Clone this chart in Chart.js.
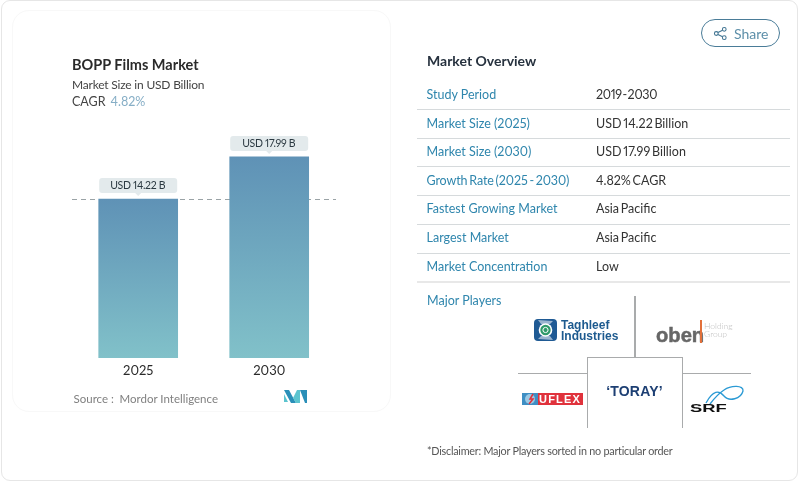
<!DOCTYPE html>
<html><head><meta charset="utf-8">
<script src="https://cdn.jsdelivr.net/npm/chart.js@4"></script>
<style>
html,body{margin:0;padding:0;background:#fff;}
body{width:800px;height:482px;position:relative;overflow:hidden;font-family:Lato,"Open Sans",sans-serif;color:#333;font-variant-numeric:proportional-nums;}
.a{position:absolute;white-space:nowrap;line-height:1;}
#outer{position:absolute;left:1px;top:0;width:797px;height:481px;border:1.5px solid #e6e6e6;border-radius:9px;box-sizing:border-box;}
#inner{position:absolute;left:12px;top:10px;width:379px;height:402px;border:1px solid #f8f8f8;border-radius:17px;box-sizing:border-box;}
canvas{position:absolute;left:0;top:0;}
.sep{position:absolute;left:417px;width:373px;height:1px;background:#d6dadc;}
.line{position:absolute;background:#a9abac;}
</style></head><body>
<div id="outer"></div><div id="inner"></div>
<canvas id="c" width="800" height="482"></canvas>
<div id="page"></div>
<svg class="a" style="left:713px;top:26px" width="15" height="15" viewBox="0 0 16 16" fill="none" stroke="#3f7391" stroke-width="1.1"><circle cx="3.5" cy="8" r="2"/><circle cx="12" cy="3.5" r="2"/><circle cx="12" cy="12.5" r="2"/><path d="M5.3 7 10.2 4.5M5.3 9 10.2 11.5"/></svg>
<div style="position:absolute;left:701px;top:19px;width:79px;height:28px;border:1.2px solid #4a7c98;border-radius:14px;box-sizing:border-box"></div>
<div class="line" style="left:634px;top:296px;width:1.5px;height:62px"></div>
<div class="line" style="left:518px;top:372.5px;width:69px;height:1.5px"></div>
<div class="line" style="left:682px;top:372.5px;width:69px;height:1.5px"></div>
<div style="position:absolute;left:587px;top:357px;width:96px;height:71px;border:1.5px solid #a9abac;border-bottom:none;box-sizing:border-box"></div>
<svg class="a" style="left:533px;top:318px" width="25" height="24" viewBox="0 0 25 24"><rect x="1" y="1" width="23" height="22" rx="4" fill="#1f5a94"/><path d="M5 2 20 3 17 6H8zM20 22 5 21 8 18H17z" fill="#fff" opacity=".55"/><circle cx="12.5" cy="12" r="6.8" fill="#fff"/><circle cx="12.5" cy="12" r="5.2" fill="#2f9a6a"/><circle cx="12.5" cy="12" r="2.6" fill="none" stroke="#fff" stroke-width="1"/></svg>
<div class="a" style="left:561px;top:320px;font:700 12px/11px 'Liberation Sans',sans-serif;color:#1d5a8f">Taghleef<br>Industries</div>
<div class="a" style="left:655.5px;top:324px;font:700 21px/1 'Liberation Sans',sans-serif;color:#666;-webkit-text-stroke:.5px #666;transform:scaleX(.96);transform-origin:left">oben</div>
<div style="position:absolute;left:700px;top:320px;width:2px;height:23px;background:#e2703a"></div>
<div class="a" style="left:704px;top:322px;font:300 8.5px/8px Lato,sans-serif;color:#bdbdbd">Holding<br>Group</div>
<div style="position:absolute;left:522px;top:393px;width:61px;height:12px;background:#e0323c"></div>
<svg class="a" style="left:522px;top:393px" width="16" height="12"><rect width="16" height="12" fill="#3f8fc4"/><circle cx="8" cy="6" r="5" fill="#9cc9e4"/><path d="M11 1 8 6h3l-4 5" stroke="#e0323c" stroke-width="1.5" fill="none"/></svg>
<div class="a" style="left:539px;top:394px;font:700 11px/1 'Liberation Sans',sans-serif;color:#fff;letter-spacing:1.2px">UFLEX</div>
<div class="a" style="left:634.5px;top:384px;transform:translateX(-50%);font:700 14px/1 'Liberation Sans',sans-serif;color:#1d3f73;letter-spacing:.2px">‘TORAY’</div>
<svg class="a" style="left:704px;top:384px" width="42" height="22" viewBox="0 0 42 22" fill="none"><path d="M2 19C9 6 15 6 20 12 25 18 37 15 39 7 40 1 27 1 20 6 14 10 9 16 6 20" stroke="#2b9ad4" stroke-width="1.3"/></svg>
<div class="a" style="left:690px;top:403px;font:900 10.5px/1 'Liberation Sans',sans-serif;color:#111;transform:scaleX(1.75);transform-origin:left">SRF</div>
<script>
const categories=["2025","2030"];
const marketSize=[14.22,17.99];
const barLabels=["USD 14.22 B","USD 17.99 B"];
const overviewLabels=["Study Period","Market Size (2025)","Market Size (2030)","Growth Rate (2025 - 2030)","Fastest Growing Market","Largest Market","Market Concentration"];
const overviewValues=["2019 - 2030","USD 14.22 Billion","USD 17.99 Billion","4.82% CAGR","Asia Pacific","Asia Pacific","Low"];
const rowY=[94.5,123.5,152,180.5,209,238,267];
const sepY=[109,138,166,195,224,253];

const page=document.getElementById('page');
function txt(s,x,y,css){const d=document.createElement('div');d.className='a';d.textContent=s;d.style.cssText=`left:${x}px;top:${y}px;transform:translateY(-50%);${css}`;page.appendChild(d);return d;}
txt("BOPP Films Market",72,64.5,"font-size:14.5px;font-weight:700;color:#2a2a2a");
txt("Market Size in USD Billion",72,85,"font-size:12px;letter-spacing:-.2px;color:#444");
txt("CAGR",72,102,"font-size:12.5px;color:#444");
txt("4.82%",110.5,102,"font-size:12.5px;color:#86aec6");
txt("Source :",73.5,398.5,"font-size:11.5px;color:#808080");
txt("Mordor Intelligence",119.5,398.5,"font-size:11.5px;color:#808080");
txt("Share",734,33.5,"font-size:14px;color:#5d8fa9");
txt("Market Overview",427,60.5,"font-size:14px;font-weight:700;color:#27323f");
overviewLabels.forEach((s,i)=>{
  const tight=s.includes(" - ");
  txt(s,426.5,rowY[i],"font-size:12.5px;color:#2f86ad;"+(tight?"word-spacing:-1.3px;letter-spacing:-.1px":""));
  const v=overviewValues[i];
  txt(v,596,rowY[i],"font-size:12.5px;color:#333;"+(v.includes(" - ")?"word-spacing:-2.2px;letter-spacing:-.3px":"word-spacing:-1.5px"));
});
sepY.forEach(y=>{const d=document.createElement('div');d.className='sep';d.style.top=y+'px';page.appendChild(d);});
const th=document.createElement('div');th.className='sep';th.style.cssText='top:281px;height:2px;background:#e8e8e8';page.appendChild(th);
txt("Major Players",427,300.5,"font-size:12.5px;color:#2f86ad");
txt("*Disclaimer: Major Players sorted in no particular order",427,450.5,"font-size:10.8px;letter-spacing:-.24px;color:#555");

const logo=document.createElementNS('http://www.w3.org/2000/svg','svg');
logo.setAttribute('class','a');logo.setAttribute('width','24');logo.setAttribute('height','13');logo.setAttribute('viewBox','0 0 24 13');
logo.style.cssText='left:284px;top:390px';
logo.innerHTML='<path d="M0 0H5L12 13H7z" fill="#2a8fb8"/><path d="M0 4 4 12H0z" fill="#5cc4cf"/><path d="M9 8 13 0H16V13H12z" fill="#5cc4cf"/><path d="M16 0H23V13H21z" fill="#2a8fb8"/>';
page.appendChild(logo);

const annotate={id:'annotate',
  beforeDatasetsDraw(ch){
    const c=ch.ctx,y=Math.round(ch.scales.y.getPixelForValue(marketSize[0]))+.5;
    c.save();c.strokeStyle='#9aa3a6';c.lineWidth=1;c.setLineDash([5,4]);
    c.beginPath();c.moveTo(72,y);c.lineTo(336,y);c.stroke();c.restore();
  },
  afterDatasetsDraw(ch){
    const c=ch.ctx,meta=ch.getDatasetMeta(0);
    meta.data.forEach((b,i)=>{
      const w=78,h=15,x=b.x-w/2,y=b.y-21;
      c.save();c.fillStyle='#e3eaec';
      c.beginPath();c.roundRect(x,y,w,h,3);c.fill();
      c.beginPath();c.moveTo(b.x-3,y+h);c.lineTo(b.x+3,y+h);c.lineTo(b.x,y+h+3);c.fill();
      c.fillStyle='#2c3a42';c.font='400 10.5px Lato';c.letterSpacing='-0.3px';c.textAlign='center';c.textBaseline='middle';
      c.fillText(barLabels[i],b.x-.5,y+h/2+.5);c.restore();
    });
  }
};
new Chart(document.getElementById('c'),{
  type:'bar',
  data:{labels:categories,datasets:[{data:marketSize,barThickness:79,
    backgroundColor(ctx){
      const ch=ctx.chart;if(!ch.chartArea)return '#6fa5bd';
      const v=ctx.raw==null?marketSize[ctx.dataIndex]:ctx.raw;
      const g=ch.ctx.createLinearGradient(0,ch.scales.y.getPixelForValue(v),0,ch.scales.y.getPixelForValue(0));
      g.addColorStop(0,'#5f92b6');g.addColorStop(1,'#81c1c9');return g;
    }}]},
  options:{responsive:false,animation:false,devicePixelRatio:1,
    layout:{padding:{left:72.7,right:465.3,top:130,bottom:94}},
    plugins:{legend:{display:false},tooltip:{enabled:false}},
    scales:{
      x:{grid:{display:false},border:{display:false},
        afterFit(s){s.height=30;},
        ticks:{color:'#2a2a2a',font:{family:'Lato',size:13},padding:-3,maxRotation:0}},
      y:{display:false,min:0,max:20.4}
    }
  },
  plugins:[annotate]
});
</script>
</body></html>
